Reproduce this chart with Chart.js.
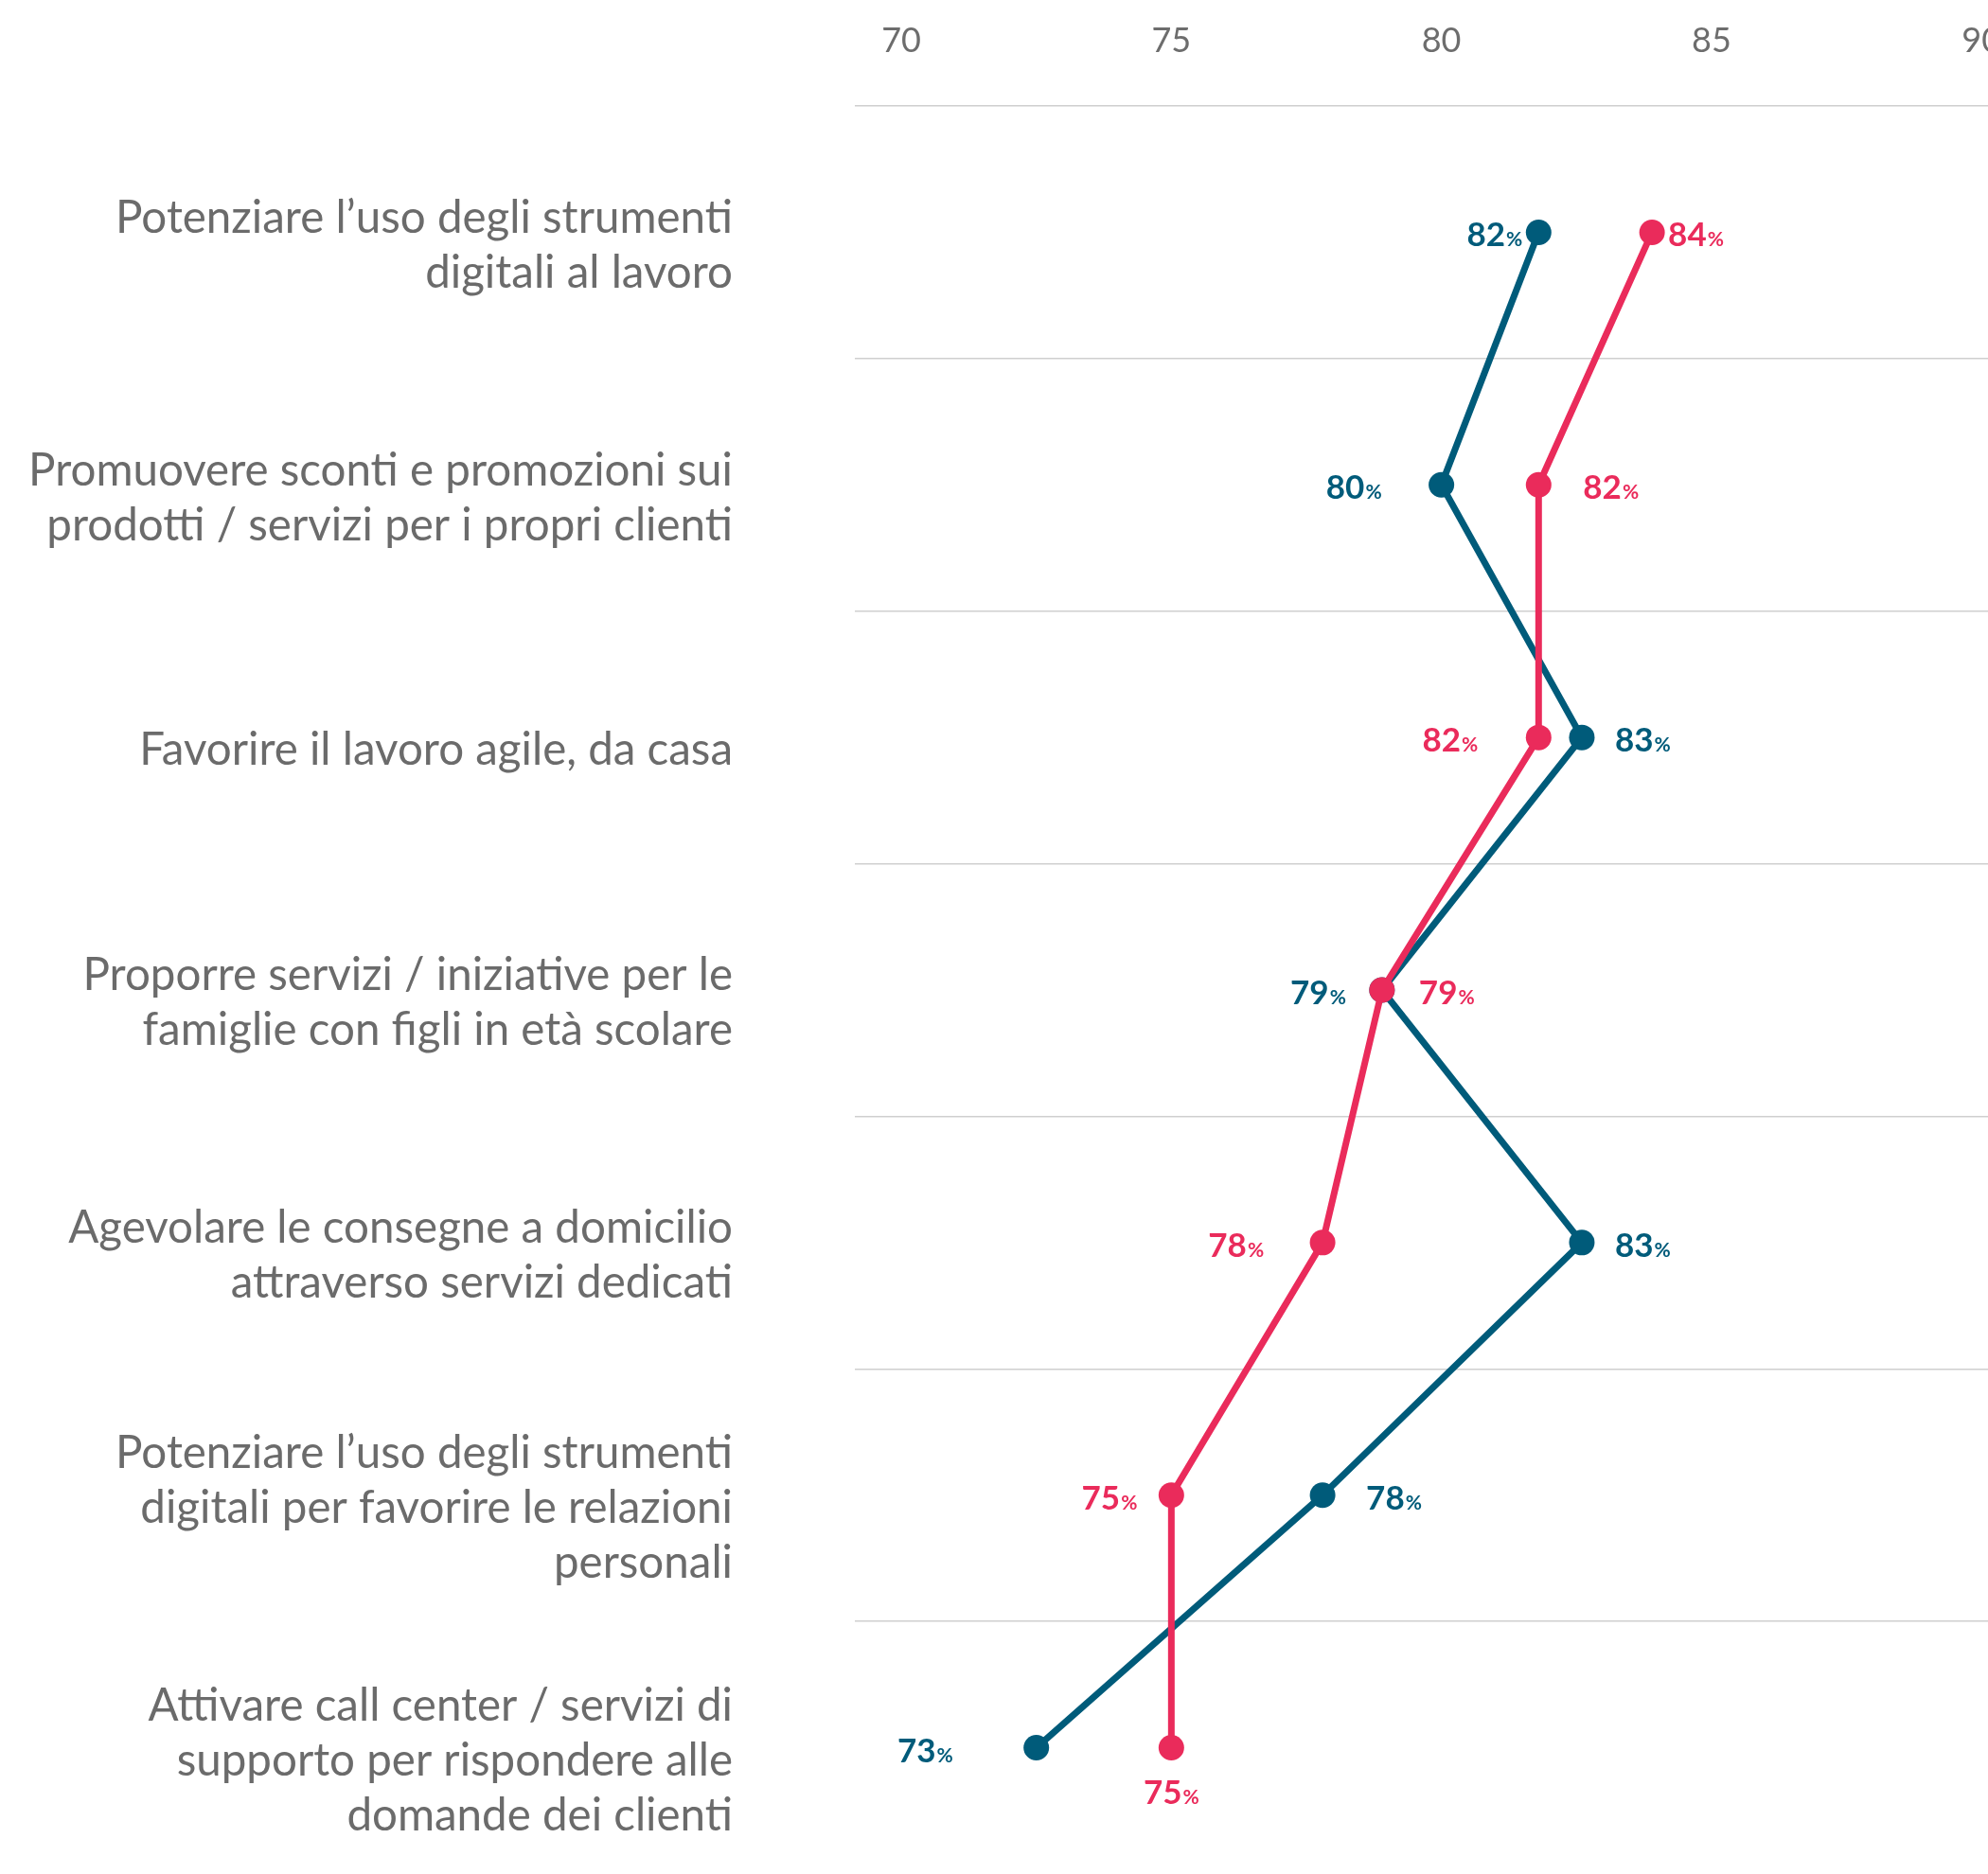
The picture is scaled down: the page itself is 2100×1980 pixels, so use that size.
<!DOCTYPE html>
<html>
<head>
<meta charset="utf-8">
<script src="https://cdn.jsdelivr.net/npm/chart.js@4.4.1/dist/chart.umd.min.js"></script>
<style>
  html, body { margin: 0; padding: 0; background: #fff; }
  #wrap { width: 2100px; height: 1980px; position: relative; }
</style>
</head>
<body>
<div id="wrap"><canvas id="chart"></canvas></div>
<script>
  var CATEGORIES = [
    ['Potenziare l\u2019uso degli strumenti', 'digitali al lavoro'],
    ['Promuovere sconti e promozioni sui', 'prodotti / servizi per i propri clienti'],
    ['Favorire il lavoro agile, da casa'],
    ['Proporre servizi / iniziative per le', 'famiglie con figli in età scolare'],
    ['Agevolare le consegne a domicilio', 'attraverso servizi dedicati'],
    ['Potenziare l\u2019uso degli strumenti', 'digitali per favorire le relazioni', 'personali'],
    ['Attivare call center / servizi di', 'supporto per rispondere alle', 'domande dei clienti']
  ];
  var BLUE_VALUES = [81.8, 80.0, 82.6, 78.9, 82.6, 77.8, 72.5];
  var RED_VALUES = [83.9, 81.8, 81.8, 78.9, 77.8, 75.0, 75.0];
  var X_TICKS = [70, 75, 80, 85, 90];

  // label placement: side of the point and distance from its centre
  var BLUE_SIDE = ['left', 'left', 'right', 'left', 'right', 'right', 'left'];
  var BLUE_GAP = [17, 63, 35, 38, 35, 46, 88];
  var RED_SIDE = ['right', 'right', 'left', 'right', 'left', 'left', 'below'];
  var RED_GAP = [17, 47, 64, 39, 62, 36, 46];

  var BLUE = '#005b7a';
  var RED = '#ea2b5b';

  var valueLabels = {
    id: 'valueLabels',
    afterDatasetsDraw: function (chart) {
      var ctx = chart.ctx;
      chart.data.datasets.forEach(function (ds, di) {
        var meta = chart.getDatasetMeta(di);
        meta.data.forEach(function (pt, i) {
          var num = String(Math.round(ds.data[i]));
          var side = ds.labelSide[i];
          var gap = ds.labelGap[i];
          ctx.save();
          ctx.fillStyle = ds.borderColor;
          ctx.textBaseline = 'alphabetic';
          ctx.textAlign = 'left';
          ctx.font = '700 35px Lato';
          var wNum = ctx.measureText(num).width;
          ctx.font = '700 21px Lato';
          var wPct = ctx.measureText('%').width;
          var total = wNum + 1 + wPct;
          var x0, base;
          if (side === 'left') {
            x0 = pt.x - gap - total;
            base = pt.y + 15;
          } else if (side === 'right') {
            x0 = pt.x + gap;
            base = pt.y + 15;
          } else {
            x0 = pt.x - total / 2;
            base = pt.y + gap + 13;
          }
          ctx.font = '700 35px Lato';
          ctx.fillText(num, x0, base);
          ctx.font = '700 21px Lato';
          ctx.fillText('%', x0 + wNum + 1, base);
          ctx.restore();
        });
      });
    }
  };

  function noPad(scale) {
    scale.paddingLeft = 0;
    scale.paddingRight = 0;
    scale.paddingTop = 0;
    scale.paddingBottom = 0;
  }

  new Chart(document.getElementById('chart'), {
    type: 'line',
    data: {
      labels: CATEGORIES,
      datasets: [
        {
          label: 'Rosso',
          data: RED_VALUES,
          borderColor: RED,
          backgroundColor: RED,
          pointBackgroundColor: RED,
          borderWidth: 7,
          pointRadius: 13.5,
          pointBorderWidth: 0,
          tension: 0,
          labelSide: RED_SIDE,
          labelGap: RED_GAP
        },
        {
          label: 'Blu',
          data: BLUE_VALUES,
          borderColor: BLUE,
          backgroundColor: BLUE,
          pointBackgroundColor: BLUE,
          borderWidth: 7,
          pointRadius: 13.5,
          pointBorderWidth: 0,
          tension: 0,
          labelSide: BLUE_SIDE,
          labelGap: BLUE_GAP
        }
      ]
    },
    options: {
      indexAxis: 'y',
      responsive: true,
      maintainAspectRatio: false,
      animation: false,
      layout: { padding: 0, autoPadding: false },
      plugins: {
        legend: { display: false },
        tooltip: { enabled: false }
      },
      scales: {
        x: {
          type: 'linear',
          position: 'top',
          min: 69.14,
          max: 90.12,
          afterBuildTicks: function (scale) {
            scale.ticks = X_TICKS.map(function (v) { return { value: v }; });
          },
          afterFit: function (scale) {
            scale.height = 112;
            noPad(scale);
          },
          grid: { display: false, drawTicks: false },
          border: { display: false },
          ticks: {
            color: '#6d6d6d',
            padding: 47,
            maxRotation: 0,
            font: { family: 'Lato', size: 36, weight: 400 }
          }
        },
        y: {
          type: 'category',
          offset: true,
          afterFit: function (scale) {
            scale.width = 903;
            noPad(scale);
          },
          grid: {
            offset: true,
            drawTicks: false,
            // the closing line under the last row falls off the picture
            color: function (c) {
              return c.type === 'tick' ? '#cfcfcf' : 'rgba(0,0,0,0)';
            },
            lineWidth: 1.5
          },
          border: { display: false },
          ticks: {
            color: '#6b6b6b',
            padding: 129,
            labelOffset: 14,
            font: { family: 'Lato', size: 47.5, lineHeight: 1.22 }
          }
        }
      }
    },
    plugins: [valueLabels]
  });
</script>
</body>
</html>
